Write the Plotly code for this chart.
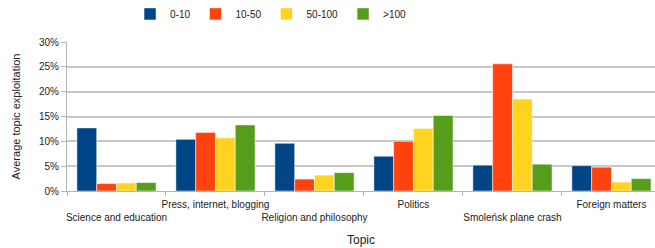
import plotly.graph_objects as go

categories = ["Science and education", "Press, internet, blogging", "Religion and philosophy",
              "Politics", "Smoleńsk plane crash", "Foreign matters"]
series_names = ["0-10", "10-50", "50-100", ">100"]
v_0_10 = [12.7, 10.4, 9.6, 7.0, 5.2, 5.1]
v_10_50 = [1.5, 11.8, 2.4, 10.0, 25.6, 4.8]
v_50_100 = [1.6, 10.7, 3.2, 12.6, 18.5, 1.8]
v_gt_100 = [1.7, 13.3, 3.7, 15.2, 5.4, 2.5]
colors = ["#004586", "#ff420e", "#ffd320", "#579d1c"]
y_ticks = [0, 5, 10, 15, 20, 25, 30]
y_ticklabels = ["0%", "5%", "10%", "15%", "20%", "25%", "30%"]

# staggered category labels (every other one pushed down one line)
ticktext = [c if i % 2 == 1 else "<br>" + c for i, c in enumerate(categories)]

fig = go.Figure()
for name, vals, col in zip(series_names, [v_0_10, v_10_50, v_50_100, v_gt_100], colors):
    fig.add_trace(go.Bar(x=categories, y=vals, name=name,
                         marker=dict(color=col, line=dict(color="rgba(255,255,255,0.5)", width=1))))

font = "Liberation Sans, Arial, sans-serif"
fig.update_layout(
    width=655, height=248,
    margin=dict(l=67, r=0, t=42, b=57, autoexpand=False),
    paper_bgcolor="white", plot_bgcolor="white",
    barmode="group", bargap=0.2, bargroupgap=0,
    font=dict(family=font, size=10, color="#222"),
    showlegend=True,
    legend=dict(orientation="h", x=0.347, xanchor="center", y=0.944, yanchor="middle",
                yref="container", font=dict(size=10), itemwidth=30,
                traceorder="normal", itemclick=False),
    xaxis=dict(
        type="category", range=[-0.5, 5.44], automargin=False,
        tickvals=categories, ticktext=ticktext, tickson="boundaries", tickangle=0,
        ticks="outside", ticklen=4, tickcolor="#b3b3b3", ticklabelstandoff=4,
        showline=True, linecolor="#b3b3b3", showgrid=False,
        tickfont=dict(size=10, color="#222"),
        title=dict(text="Topic", font=dict(size=12, color="#222"), standoff=13),
    ),
    yaxis=dict(
        range=[0, 30], tickvals=y_ticks, ticktext=y_ticklabels, automargin=False,
        ticks="outside", ticklen=5, tickcolor="#b3b3b3",
        showline=True, linecolor="#b3b3b3",
        showgrid=True, gridcolor="#c8c8c8", gridwidth=1.5,
        zeroline=False,
        tickfont=dict(size=10, color="#222"),
        title=dict(text="Average topic exploitation", font=dict(size=11, color="#222"), standoff=16),
    ),
)
fig.write_html("out.html", config={"displayModeBar": False},
               post_script="document.body.style.margin='0';")
